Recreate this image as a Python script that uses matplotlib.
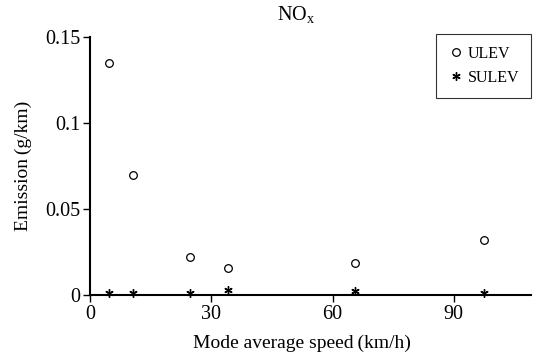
import numpy as np
import matplotlib
matplotlib.use('Agg')
import matplotlib.pyplot as plt

plt.rcParams['font.family'] = ['Liberation Serif', 'DejaVu Serif']
plt.rcParams['mathtext.fontset'] = 'custom'
plt.rcParams['mathtext.rm'] = 'Liberation Serif'

speed = [4.7, 10.7, 24.8, 34.2, 65.5, 97.5]
ulev = [0.135, 0.070, 0.022, 0.0157, 0.0186, 0.032]
sulev = [0.001, 0.001, 0.001, 0.003, 0.0025, 0.001]
xticks = [0, 30, 60, 90]
yticks = [0, 0.05, 0.1, 0.15]
yticklabels = ['0', '0.05', '0.1', '0.15']

fig = plt.figure(figsize=(5.37, 3.59), dpi=100)
ax = fig.add_axes([0.168, 0.178, 0.82, 0.719])

ax.plot(speed, ulev, 'o', mfc='none', mec='black', ms=5.5, mew=0.9, label='ULEV', clip_on=False)
ax.plot(speed, sulev, ls='none', marker=(6, 2, 0), color='black', ms=6, mew=1.0, label='SULEV', clip_on=False)

ax.set_xlim(0, 109)
ax.set_ylim(0, 0.15)
ax.set_xticks(xticks)
ax.set_yticks(yticks)
ax.set_yticklabels(yticklabels)
ax.spines['top'].set_visible(False)
ax.spines['right'].set_visible(False)
ax.spines['left'].set_linewidth(1.5)
ax.spines['bottom'].set_linewidth(1.5)
ax.tick_params(labelsize=14.5, width=1, length=5, pad=2)

ax.set_xlabel('Mode average speed\u2009(km/h)', fontsize=14)
ax.xaxis.set_label_coords(0.48, -0.155)
ax.set_ylabel('Emission\u2009(g/km)', fontsize=14)
ax.yaxis.set_label_coords(-0.132, 0.5)
fig.text(0.551, 0.958, r'NO$_\mathrm{x}$', fontsize=14.5, ha='center', va='center')

leg = ax.legend(loc='upper right', bbox_to_anchor=(0.989, 0.905), bbox_transform=fig.transFigure,
                fontsize=11.5, frameon=True, fancybox=False, edgecolor='black', borderaxespad=0,
                handletextpad=0.25, borderpad=0.75, handlelength=1.0, labelspacing=0.5)
leg.get_frame().set_linewidth(0.8)

plt.savefig('out.png', dpi=100)
